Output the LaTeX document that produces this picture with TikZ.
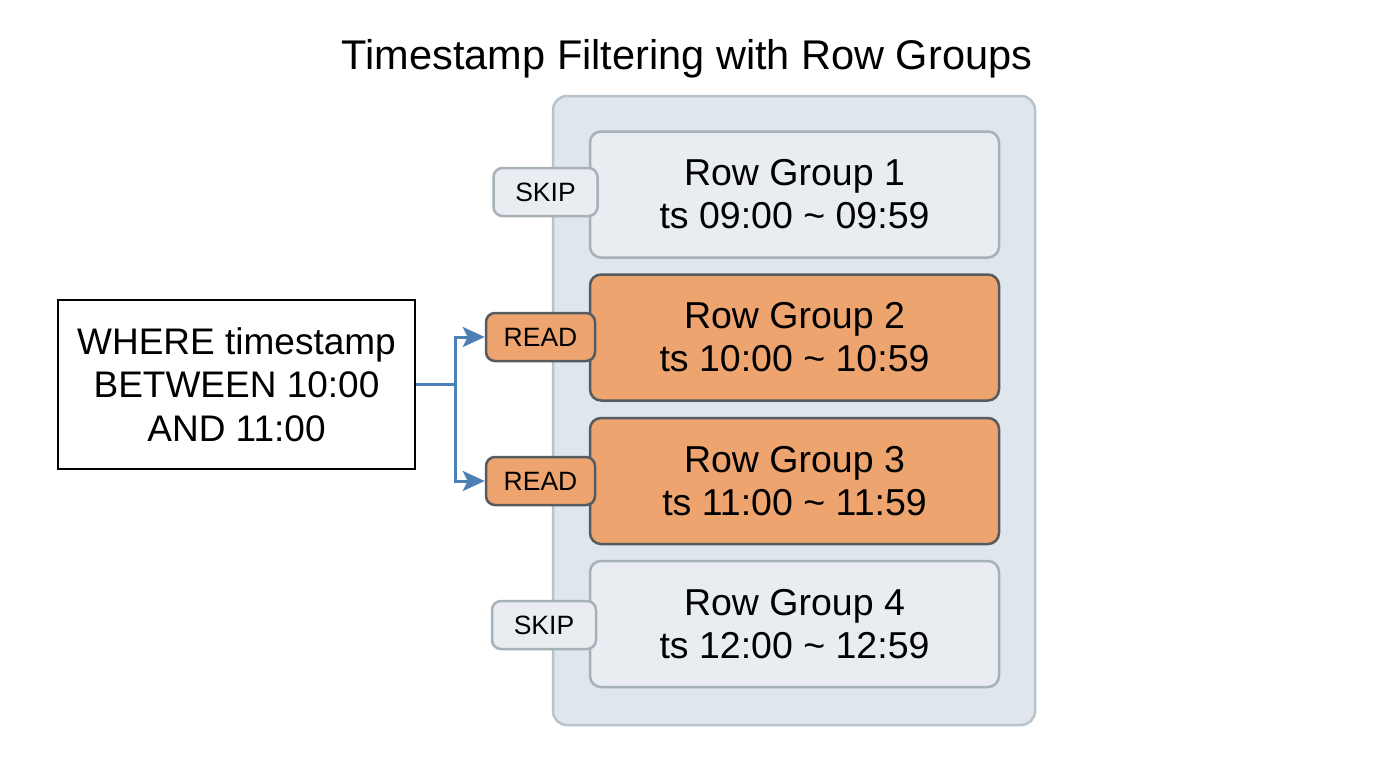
\documentclass[tikz,border=0pt]{standalone}
\usepackage{fontspec}
\setmainfont{Liberation Sans}
\usetikzlibrary{arrows.meta}
\definecolor{contfill}{HTML}{DFE6EC}
\definecolor{contline}{HTML}{B9C3CB}
\definecolor{grayfill}{HTML}{E9EDF1}
\definecolor{grayline}{HTML}{A7B1B8}
\definecolor{orfill}{HTML}{EDA46F}
\definecolor{orline}{HTML}{555B5F}
\definecolor{arrowblue}{HTML}{4A80B4}
\tikzset{
  container/.style={draw=contline, fill=contfill, line width=2.5pt, rounded corners=14pt, minimum width=482pt, minimum height=629pt, inner sep=0pt},
  rgskip/.style={draw=grayline, fill=grayfill, line width=2.5pt, rounded corners=11pt, minimum width=409pt, minimum height=126pt, align=center, inner sep=0pt, font=\fontsize{37.5}{43}\selectfont},
  rgread/.style={rgskip, draw=orline, fill=orfill},
  tagskip/.style={draw=grayline, fill=grayfill, line width=2.5pt, rounded corners=9pt, minimum width=104pt, minimum height=48pt, inner sep=0pt, font=\fontsize{26.5}{30}\selectfont},
  tagread/.style={tagskip, draw=orline, fill=orfill, minimum width=109pt},
  query/.style={draw=black, fill=white, line width=2.5pt, minimum width=357pt, minimum height=169pt, align=center, inner sep=0pt, font=\fontsize{37}{43.5}\selectfont},
  flow/.style={draw=arrowblue, line width=3pt, -{Stealth[length=22pt,width=20pt,inset=5pt]}}
}
\begin{document}
\begin{tikzpicture}[x=1pt,y=-1pt]
\useasboundingbox[fill=white] (0,0) rectangle (1376,768);
\node[font=\fontsize{41.5}{48}\selectfont] (title) at (687,59) {Timestamp Filtering with Row Groups};
\node[container] (cont) at (794,410.5) {};
\node[rgskip] (g1) at (794.5,194.5) {Row Group 1\\ts 09:00 \textasciitilde{} 09:59};
\node[rgread] (g2) at (794.5,337.5) {Row Group 2\\ts 10:00 \textasciitilde{} 10:59};
\node[rgread] (g3) at (794.5,481) {Row Group 3\\ts 11:00 \textasciitilde{} 11:59};
\node[rgskip] (g4) at (794.5,624) {Row Group 4\\ts 12:00 \textasciitilde{} 12:59};
\node[tagskip] (s1) at (545.5,192) {SKIP};
\node[tagread] (r2) at (540.5,337) {READ};
\node[tagread] (r3) at (540.5,481) {READ};
\node[tagskip] (s4) at (544,625) {SKIP};
\node[query] (q) at (236.5,384.5) {WHERE timestamp\\BETWEEN 10:00\\AND 11:00};
\coordinate (j) at (455,384.5);
\draw[draw=arrowblue, line width=3pt] (q.east) -- (j);
\draw[flow] (j) |- (r2.west);
\draw[flow] (j) |- (r3.west);
\end{tikzpicture}
\end{document}
